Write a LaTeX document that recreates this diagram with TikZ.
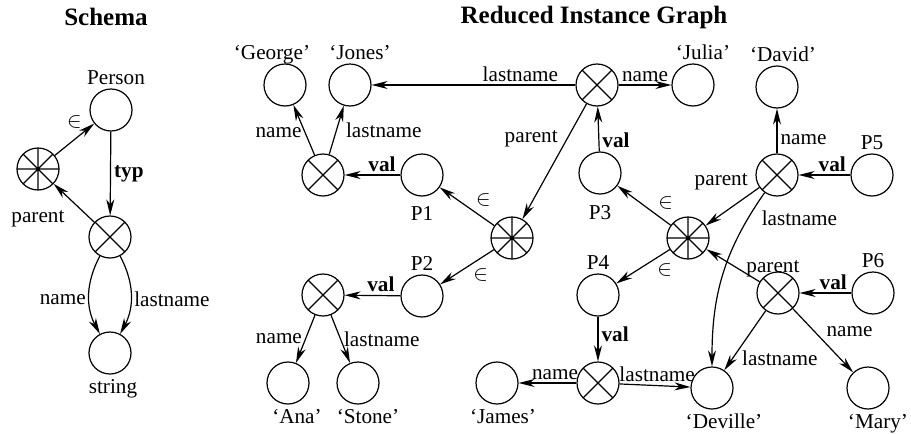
\documentclass[tikz,border=0pt]{standalone}
\usepackage{fontspec}
\setmainfont{Liberation Serif}
\usetikzlibrary{arrows.meta}

\begin{document}
\begin{tikzpicture}[x=0.5pt,y=0.5pt,
    font=\fontsize{10.6}{12}\selectfont,
    obj/.style={circle,draw,line width=0.6pt,minimum size=21pt,inner sep=0pt},
    tup/.style={obj,path picture={
        \draw (path picture bounding box.north west) -- (path picture bounding box.south east)
              (path picture bounding box.south west) -- (path picture bounding box.north east);}},
    coll/.style={obj,path picture={
        \draw (path picture bounding box.north west) -- (path picture bounding box.south east)
              (path picture bounding box.south west) -- (path picture bounding box.north east)
              (path picture bounding box.north) -- (path picture bounding box.south)
              (path picture bounding box.west) -- (path picture bounding box.east);
        \fill (path picture bounding box.center) circle (1pt);}},
    every label/.style={inner sep=2pt,text depth=0pt},
    heading/.style={font=\fontsize{12.5}{14}\selectfont\bfseries}]

\useasboundingbox (0,0) rectangle (911,-434);

\node[heading] (schema) at (106,-17) {Schema};
\node[heading] (reduced) at (594,-17) {Reduced Instance Graph};

% schema
\begin{scope}
    \node[obj,label={[xshift=2.5pt]above:Person}] (person) at (111,-110) {};
    \node[coll] (sset) at (38,-169) {};
    \node[tup] (stup) at (110,-237) {};
    \node[obj,label={[xshift=1.5pt]below:string}] (sstr) at (110,-353) {};
\end{scope}

% instance graph
\begin{scope}
    \node[obj,label={[xshift=-6.5pt]above:`George'}] (george) at (285,-85) {};
    \node[obj,label={[xshift=5pt]above:`Jones'}] (jones) at (350,-85) {};
    \node[tup] (t0) at (597,-85) {};
    \node[obj,label={[xshift=5pt]above:`Julia'}] (julia) at (693,-85) {};
    \node[obj,label={[xshift=3pt]above:`David'}] (david) at (777,-87) {};
    \node[tup] (t1) at (323,-175) {};
    \node[obj,label={[label distance=3pt]below:P1}] (p1) at (422,-175) {};
    \node[obj,label={[label distance=3pt]below:P3}] (p3) at (600,-173) {};
    \node[tup] (t5) at (777,-175) {};
    \node[obj,label=above:P5] (p5) at (872,-175) {};
    \node[coll] (s1) at (512,-238) {};
    \node[coll] (s2) at (688,-238) {};
    \node[tup] (t2) at (323,-295) {};
    \node[obj,label=above:P2] (p2) at (422,-296) {};
    \node[obj,label=above:P4] (p4) at (598,-295) {};
    \node[tup] (t6) at (778,-293) {};
    \node[obj,label=above:P6] (p6) at (873,-293) {};
    \node[obj,label={[xshift=4.5pt]below:`Ana'}] (ana) at (288,-383) {};
    \node[obj,label={[xshift=5pt]below:`Stone'}] (stone) at (358,-383) {};
    \node[obj,label={[xshift=3pt]below:`James'}] (james) at (497,-383) {};
    \node[tup] (t4) at (598,-383) {};
    \node[obj,label={[xshift=6pt]below:`Deville'}] (deville) at (712,-388) {};
    \node[obj,label={[xshift=5pt]below:`Mary'}] (mary) at (868,-388) {};
\end{scope}

\begin{scope}[>={Stealth[length=8pt,width=4pt,inset=2.5pt]},
              every node/.style={inner sep=1.5pt},
              every edge/.style={draw,line width=0.6pt}]
    \path [->] (sset) edge node[above=4pt,pos=0.5] {$\in$} (person);
    \path [->] (person) edge node[right] {\textbf{typ}} (stup);
    \path [->] (stup) edge node[below left,xshift=-3pt,yshift=-2pt] {parent} (sset);
    \path [->] (stup) edge[bend right=28] node[left,pos=0.56] {name} (sstr);
    \path [->] (stup) edge[bend left=28] node[right,pos=0.56] {lastname} (sstr);

    \path [->] (t0) edge node[above,pos=0.27] {lastname} (jones);
    \path [->] (t0) edge node[above] {name} (julia);
    \path [->] (t0) edge node[left,pos=0.3,xshift=-3pt] {parent} (s1);
    \path [->] (p3) edge node[right,pos=0.25] {\textbf{val}} (t0);
    \path [->] (t1) edge node[left,pos=0.45] {name} (george);
    \path [->] (t1) edge node[right,xshift=3pt] {lastname} (jones);
    \path [->] (p1) edge node[above,pos=0.33] {\textbf{val}} (t1);
    \path [->] (s1) edge node[above right,pos=0.4] {$\in$} (p1);
    \path [->] (s1) edge node[below right,pos=0.45] {$\in$} (p2);
    \path [->] (p2) edge node[above,pos=0.35] {\textbf{val}} (t2);
    \path [->] (t2) edge node[left] {name} (ana);
    \path [->] (t2) edge node[right] {lastname} (stone);
    \path [->] (s2) edge node[above right,pos=0.3] {$\in$} (p3);
    \path [->] (s2) edge node[below right,pos=0.3] {$\in$} (p4);
    \path [->] (p4) edge node[right,pos=0.4] {\textbf{val}} (t4);
    \path [->] (t4) edge node[above,pos=0.37] {name} (james);
    \path [->] (t4) edge node[above,pos=0.53] {lastname} (deville);
    \path [->] (t5) edge node[right,pos=0.3] {name} (david);
    \path [->] (p5) edge node[above,pos=0.35] {\textbf{val}} (t5);
    \path [->] (t5) edge node[above left,pos=0.15] {parent} (s2);
    \path [->] (t5) edge[out=235,in=90] node[right,pos=0.15,xshift=5pt] {lastname} (deville);
    \path [->] (p6) edge node[above,pos=0.35] {\textbf{val}} (t6);
    \path [->] (t6) edge node[above,pos=0.05,xshift=8pt] {parent} (s2);
    \path [->] (t6) edge node[right,pos=0.8,xshift=3pt] {lastname} (deville);
    \path [->] (t6) edge node[above right] {name} (mary);
\end{scope}
\end{tikzpicture}
\end{document}
